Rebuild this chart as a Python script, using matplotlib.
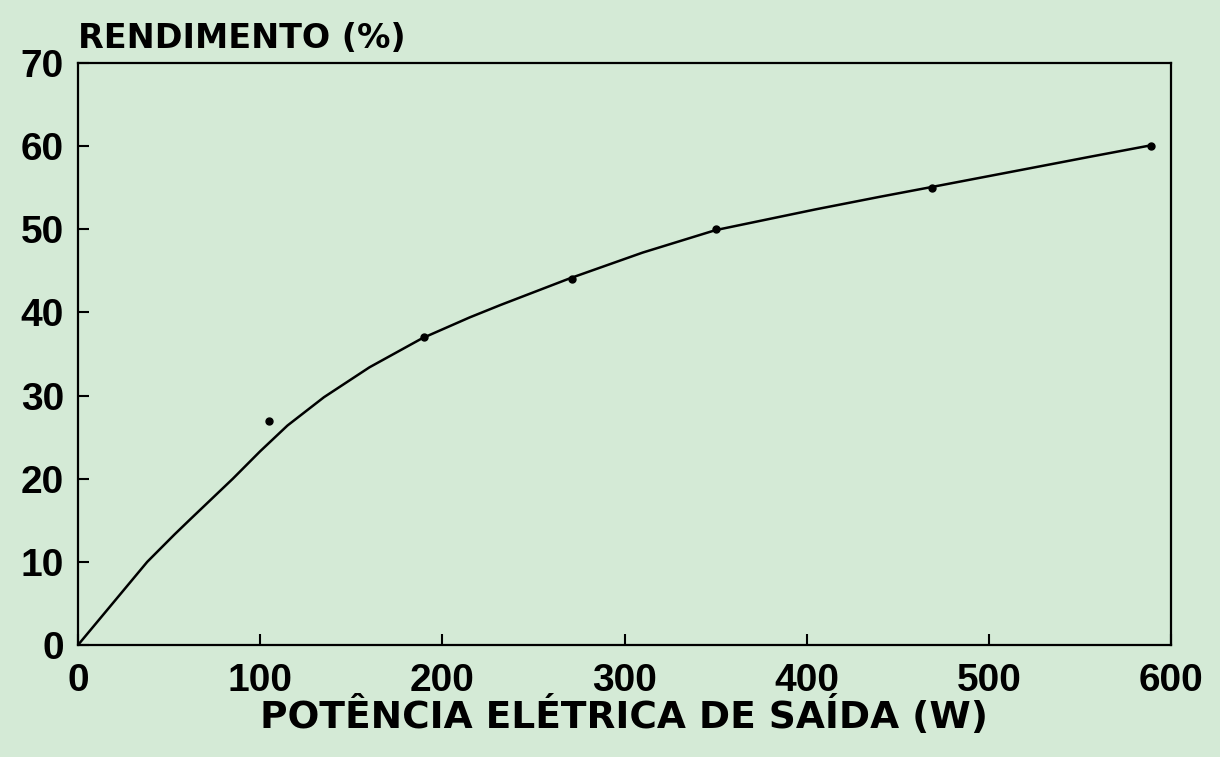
import numpy as np
import matplotlib
matplotlib.use("Agg")
import matplotlib.pyplot as plt

# measured points (W, %)
pot = [105, 190, 271, 350, 469, 589]
rend = [27, 37, 44, 50, 55, 60]

# fitted curve
curva_x = [0, 19, 38, 53, 62, 85, 100, 115, 135, 160, 189, 215, 232, 270, 310, 350, 405, 440, 469, 524, 555, 589]
curva_y = [0, 5.0, 10, 13.3, 15.2, 20, 23.3, 26.4, 29.8, 33.4, 36.9, 39.4, 40.9, 44.1, 47.2, 49.9, 52.4, 53.9, 55.1, 57.4, 58.7, 60.1]

xticks = [0, 100, 200, 300, 400, 500, 600]
yticks = [0, 10, 20, 30, 40, 50, 60, 70]

bg = "#d4ead6"
plt.rcParams['font.family'] = ['DejaVu Sans']
plt.rcParams['font.weight'] = 'bold'

fig = plt.figure(figsize=(12.2, 7.57), dpi=100, facecolor=bg)
ax = fig.add_axes([78/1220, 1 - 645/757, (1171-78)/1220, (645-63)/757])
ax.set_facecolor(bg)

ax.plot(curva_x, curva_y, color="black", linewidth=1.8, solid_joinstyle='round')
ax.plot(pot, rend, 'o', color="black", markersize=5)

ax.set_xlim(0, 600)
ax.set_ylim(0, 70)
ax.set_xticks(xticks)
ax.set_yticks(yticks)
ax.tick_params(direction='in', length=8, width=1.5, pad=13)
ax.tick_params(axis='y', pad=10)
for lab in ax.get_xticklabels() + ax.get_yticklabels():
    lab.set_fontfamily('Liberation Sans')
    lab.set_fontsize(28)
    lab.set_fontweight('bold')
for sp in ax.spines.values():
    sp.set_linewidth(1.6)

ax.set_xlabel("POTÊNCIA ELÉTRICA DE SAÍDA (W)", fontsize=27, fontweight='bold', labelpad=-2)
fig.text(78/1220, 1 - 48/757, "RENDIMENTO (%)", fontsize=24, fontweight='bold', ha='left', va='baseline')

fig.savefig("out.png", dpi=100, facecolor=bg)
